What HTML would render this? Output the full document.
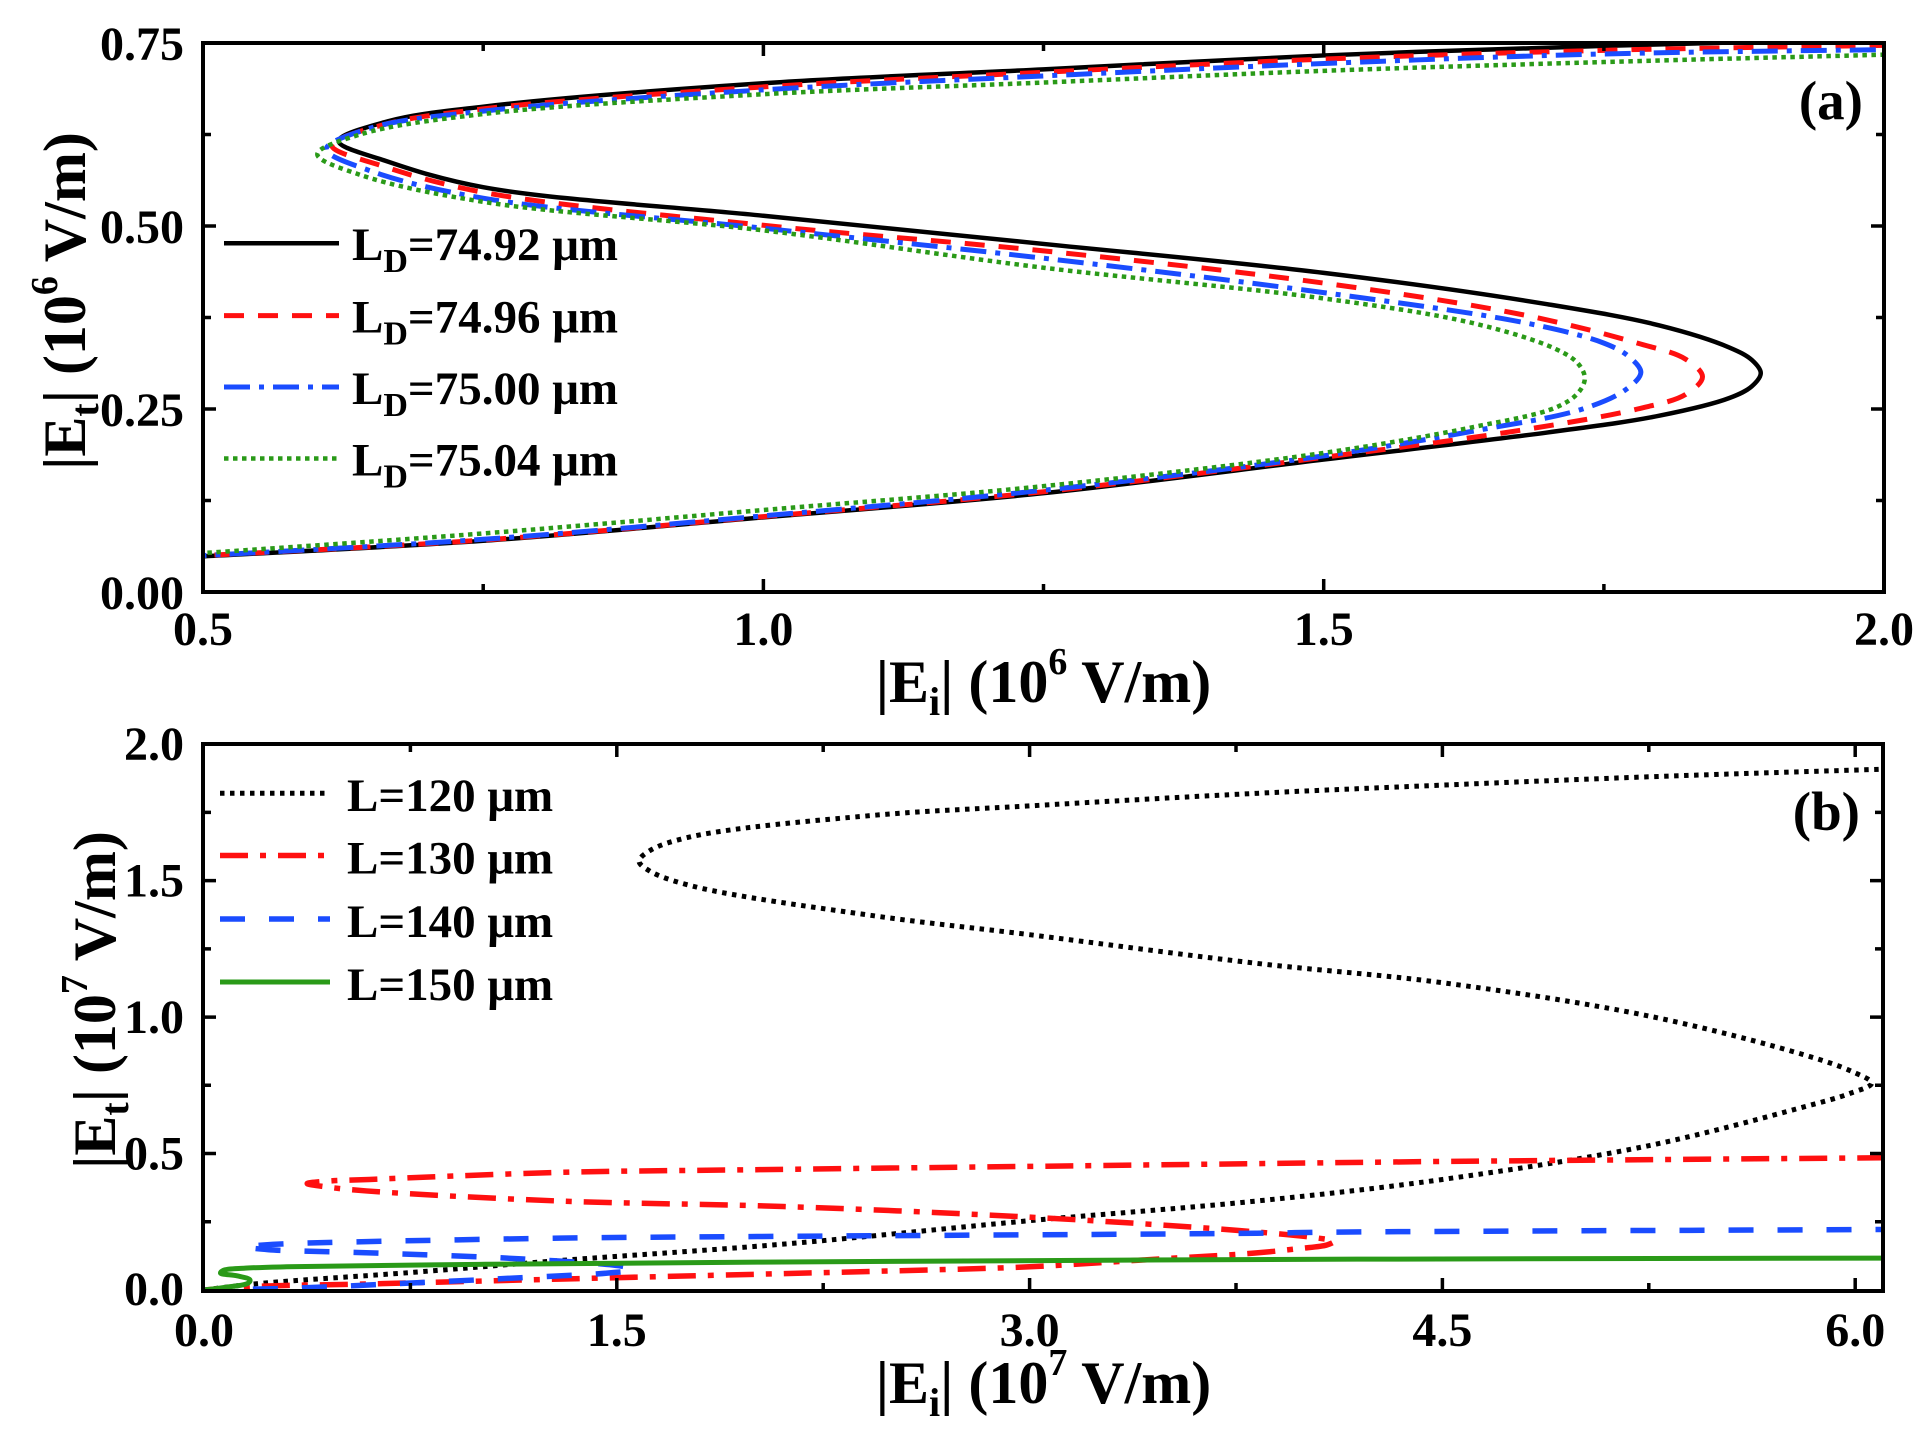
<!DOCTYPE html>
<html>
<head>
<meta charset="utf-8">
<style>
html,body{margin:0;padding:0;background:#fff;}
svg{display:block;}
text{font-family:"Liberation Serif","DejaVu Serif",serif;font-weight:bold;fill:#000;}
</style>
</head>
<body>
<svg id="s" width="1931" height="1451" viewBox="0 0 1931 1451" xmlns="http://www.w3.org/2000/svg">
<defs>
<clipPath id="ca"><rect x="203" y="43" width="1681" height="549"/></clipPath>
<clipPath id="cb"><rect x="203" y="744" width="1680" height="547"/></clipPath>
</defs>
<rect width="1931" height="1451" fill="#fff"/>

<g id="curvesA" clip-path="url(#ca)" fill="none"></g>
<g id="curvesB" clip-path="url(#cb)" fill="none"></g>

<!-- Panel (a) frame and ticks -->
<rect x="203" y="43" width="1681" height="549" fill="none" stroke="#000" stroke-width="4"/>
<path fill="none" stroke="#000" stroke-width="3.5" d="
M483.2 592V584 M763.4 592V579 M1043.5 592V584 M1323.7 592V579 M1603.9 592V584
M483.2 43V51 M763.4 43V56 M1043.5 43V51 M1323.7 43V56 M1603.9 43V51
M203 500.5H211 M203 409H216 M203 317.5H211 M203 226H216 M203 134.5H211
M1884 500.5H1876 M1884 409H1871 M1884 317.5H1876 M1884 226H1871 M1884 134.5H1876"/>

<!-- Panel (b) frame and ticks -->
<rect x="203" y="744" width="1680" height="547" fill="none" stroke="#000" stroke-width="4"/>
<path fill="none" stroke="#000" stroke-width="3.5" d="
M410.4 1291V1283 M616.8 1291V1278 M823.2 1291V1283 M1029.6 1291V1278 M1236 1291V1283 M1442.4 1291V1278 M1648.8 1291V1283 M1855.2 1291V1278
M410.4 744V752 M616.8 744V757 M823.2 744V752 M1029.6 744V757 M1236 744V752 M1442.4 744V757 M1648.8 744V752 M1855.2 744V757
M203 1221.8H211 M203 1153.5H216 M203 1085.3H211 M203 1017.1H216 M203 948.9H211 M203 880.6H216 M203 812.4H211
M1883 1221.8H1875 M1883 1153.5H1870 M1883 1085.3H1875 M1883 1017.1H1870 M1883 948.9H1875 M1883 880.6H1870 M1883 812.4H1875"/>

<!-- Panel (a) tick labels -->
<g font-size="48" text-anchor="end">
<text x="184" y="60">0.75</text>
<text x="184" y="243">0.50</text>
<text x="184" y="426">0.25</text>
<text x="184" y="609">0.00</text>
</g>
<g font-size="48" text-anchor="middle">
<text x="203" y="645">0.5</text>
<text x="763.4" y="645">1.0</text>
<text x="1323.7" y="645">1.5</text>
<text x="1884" y="645">2.0</text>
</g>

<!-- Panel (b) tick labels -->
<g font-size="48" text-anchor="end">
<text x="184" y="760">2.0</text>
<text x="184" y="896.6">1.5</text>
<text x="184" y="1033">1.0</text>
<text x="184" y="1169.5">0.5</text>
<text x="184" y="1305">0.0</text>
</g>
<g font-size="48" text-anchor="middle">
<text x="204" y="1346">0.0</text>
<text x="616.8" y="1346">1.5</text>
<text x="1029.6" y="1346">3.0</text>
<text x="1442.4" y="1346">4.5</text>
<text x="1855.2" y="1346">6.0</text>
</g>

<!-- Axis titles -->
<text x="1043.5" y="702" text-anchor="middle" font-size="60">|E<tspan font-size="40" dy="13">i</tspan><tspan dy="-13">| (10</tspan><tspan font-size="38" dy="-28">6</tspan><tspan dy="28"> V/m)</tspan></text>
<text x="1043.5" y="1403" text-anchor="middle" font-size="60">|E<tspan font-size="40" dy="13">i</tspan><tspan dy="-13">| (10</tspan><tspan font-size="38" dy="-28">7</tspan><tspan dy="28"> V/m)</tspan></text>
<text transform="translate(85,301) rotate(-90)" text-anchor="middle" font-size="60">|E<tspan font-size="40" dy="13">t</tspan><tspan dy="-13">| (10</tspan><tspan font-size="38" dy="-28">6</tspan><tspan dy="28"> V/m)</tspan></text>
<text transform="translate(115,1000) rotate(-90)" text-anchor="middle" font-size="60">|E<tspan font-size="40" dy="13">t</tspan><tspan dy="-13">| (10</tspan><tspan font-size="38" dy="-28">7</tspan><tspan dy="28"> V/m)</tspan></text>

<!-- Panel labels -->
<text x="1863" y="119" text-anchor="end" font-size="55">(a)</text>
<text x="1860" y="830" text-anchor="end" font-size="55">(b)</text>

<!-- Legend (a) -->
<g fill="none">
<line x1="224" y1="243.3" x2="339" y2="243.3" stroke="#000" stroke-width="4.5"/>
<line x1="224" y1="315.6" x2="339" y2="315.6" stroke="#ff1010" stroke-width="5" stroke-dasharray="20 14"/>
<line x1="224" y1="387" x2="339" y2="387" stroke="#1a4cff" stroke-width="5" stroke-dasharray="26 9 5 9"/>
<line x1="224" y1="458.5" x2="339" y2="458.5" stroke="#2a9a18" stroke-width="4.5" stroke-dasharray="4.5 4.5"/>
</g>
<g font-size="47">
<text x="352" y="260">L<tspan font-size="34" dy="12">D</tspan><tspan dy="-12">=74.92 μm</tspan></text>
<text x="352" y="332.6">L<tspan font-size="34" dy="12">D</tspan><tspan dy="-12">=74.96 μm</tspan></text>
<text x="352" y="404">L<tspan font-size="34" dy="12">D</tspan><tspan dy="-12">=75.00 μm</tspan></text>
<text x="352" y="475.5">L<tspan font-size="34" dy="12">D</tspan><tspan dy="-12">=75.04 μm</tspan></text>
</g>

<!-- Legend (b) -->
<g fill="none">
<line x1="220" y1="793.3" x2="330" y2="793.3" stroke="#000" stroke-width="5" stroke-dasharray="4.5 5.5"/>
<line x1="220" y1="855.5" x2="330" y2="855.5" stroke="#ff1010" stroke-width="5.5" stroke-dasharray="28 12 6 12"/>
<line x1="220" y1="919" x2="330" y2="919" stroke="#1a4cff" stroke-width="5.5" stroke-dasharray="25 24"/>
<line x1="220" y1="982" x2="330" y2="982" stroke="#2a9a18" stroke-width="5"/>
</g>
<g font-size="47">
<text x="347" y="811">L=120 μm</text>
<text x="347" y="873.5">L=130 μm</text>
<text x="347" y="937">L=140 μm</text>
<text x="347" y="1000">L=150 μm</text>
</g>
</svg>

<script>
(function(){
  var NS="http://www.w3.org/2000/svg";
  function cr(pts){
    var n=pts.length;
    var d="M"+pts[0][0].toFixed(2)+" "+pts[0][1].toFixed(2);
    for(var i=0;i<n-1;i++){
      var p1=pts[i], p2=pts[i+1];
      var p0=i>0?pts[i-1]:[2*p1[0]-p2[0],2*p1[1]-p2[1]];
      var p3=i+2<n?pts[i+2]:[2*p2[0]-p1[0],2*p2[1]-p1[1]];
      var d1=Math.sqrt(Math.hypot(p1[0]-p0[0],p1[1]-p0[1]))||1e-4;
      var d2=Math.sqrt(Math.hypot(p2[0]-p1[0],p2[1]-p1[1]))||1e-4;
      var d3=Math.sqrt(Math.hypot(p3[0]-p2[0],p3[1]-p2[1]))||1e-4;
      var a1=d1*d1,a2=d2*d2,a3=d3*d3;
      var b1x=(a1*p2[0]-a2*p0[0]+(2*a1+3*d1*d2+a2)*p1[0])/(3*d1*(d1+d2));
      var b1y=(a1*p2[1]-a2*p0[1]+(2*a1+3*d1*d2+a2)*p1[1])/(3*d1*(d1+d2));
      var b2x=(a3*p1[0]-a2*p3[0]+(2*a3+3*d3*d2+a2)*p2[0])/(3*d3*(d3+d2));
      var b2y=(a3*p1[1]-a2*p3[1]+(2*a3+3*d3*d2+a2)*p2[1])/(3*d3*(d3+d2));
      d+=" C"+b1x.toFixed(2)+" "+b1y.toFixed(2)+" "+b2x.toFixed(2)+" "+b2y.toFixed(2)+" "+p2[0].toFixed(2)+" "+p2[1].toFixed(2);
    }
    return d;
  }
  function add(g,data,mx,my,stroke,w,dash){
    var pts=data.map(function(p){return [mx(p[0]),my(p[1])];});
    var el=document.createElementNS(NS,"path");
    el.setAttribute("d",cr(pts));
    el.setAttribute("fill","none");
    el.setAttribute("stroke",stroke);
    el.setAttribute("stroke-width",w);
    el.setAttribute("stroke-linejoin","round");
    if(dash) el.setAttribute("stroke-dasharray",dash);
    g.appendChild(el);
  }
  var ax=function(v){return 203+(v-0.5)*1120.7;};
  var ay=function(v){return 592-v*732;};
  var bx=function(v){return 204+v*275.2;};
  var by=function(v){return 1290-v*272.9;};

  var A_black=[[0.48,0.047],[0.75,0.070],[1.0,0.102],[1.25,0.135],[1.5,0.181],[1.7,0.218],[1.8,0.241],[1.862,0.265],[1.882,0.281],[1.89,0.299],[1.882,0.317],[1.862,0.334],[1.8,0.364],[1.7,0.393],[1.5,0.436],[1.25,0.4755],[1.0,0.514],[0.75,0.553],[0.665,0.588],[0.621,0.616],[0.665,0.643],[0.75,0.663],[1.0,0.695],[1.25,0.714],[1.5,0.733],[1.75,0.746],[2.05,0.758]];
  var A_red=[[0.48,0.048],[0.75,0.071],[1.0,0.103],[1.25,0.137],[1.5,0.184],[1.68,0.222],[1.78,0.250],[1.823,0.270],[1.838,0.294],[1.823,0.318],[1.78,0.340],[1.68,0.378],[1.5,0.422],[1.25,0.466],[1.0,0.501],[0.75,0.546],[0.66,0.582],[0.615,0.61],[0.66,0.638],[0.75,0.660],[1.0,0.690],[1.25,0.710],[1.5,0.728],[1.75,0.740],[2.05,0.748]];
  var A_blue=[[0.48,0.048],[0.75,0.072],[1.0,0.104],[1.25,0.139],[1.5,0.186],[1.634,0.22],[1.731,0.250],[1.770,0.277],[1.783,0.300],[1.772,0.322],[1.75,0.340],[1.682,0.367],[1.5,0.409],[1.25,0.456],[1.0,0.497],[0.75,0.538],[0.65,0.575],[0.61,0.605],[0.65,0.634],[0.75,0.657],[1.0,0.686],[1.25,0.705],[1.5,0.722],[1.75,0.735],[2.05,0.742]];
  var A_green=[[0.48,0.051],[0.75,0.080],[1.0,0.112],[1.25,0.1446],[1.5,0.19],[1.634,0.2255],[1.707,0.252],[1.727,0.272],[1.733,0.292],[1.727,0.312],[1.707,0.332],[1.634,0.367],[1.5,0.401],[1.25,0.443],[1.0,0.494],[0.75,0.533],[0.64,0.57],[0.602,0.598],[0.64,0.625],[0.75,0.653],[1.0,0.680],[1.25,0.696],[1.5,0.712],[1.75,0.724],[2.05,0.736]];

  var gA=document.getElementById("curvesA");
  add(gA,A_black,ax,ay,"#000",4.5,null);
  add(gA,A_red,ax,ay,"#ff1010",5,"20 14");
  add(gA,A_blue,ax,ay,"#1a4cff",5,"26 9 5 9");
  add(gA,A_green,ax,ay,"#2a9a18",4.5,"4.5 4.5");

  var B_black=[[0,0],[0.18,0.022],[0.763,0.065],[1.292,0.108],[2.104,0.168],[3.0,0.254],[3.825,0.326],[4.5,0.405],[5.25,0.529],[5.81,0.67],[5.98,0.72],[6.06,0.758],[5.99,0.80],[5.81,0.863],[5.25,1.004],[4.5,1.126],[3.825,1.197],[3.0,1.302],[2.429,1.372],[1.779,1.479],[1.62,1.535],[1.581,1.571],[1.62,1.61],[1.779,1.663],[2.429,1.739],[3.0,1.774],[3.825,1.82],[4.5,1.85],[5.29,1.882],[6.15,1.91]];
  var B_red=[[0,0],[0.16,0.012],[0.63,0.023],[1.29,0.04],[2.02,0.058],[2.5,0.07],[3.0,0.085],[3.41,0.11],[3.825,0.136],[3.98,0.152],[4.08,0.165],[4.106,0.178],[4.05,0.19],[3.76,0.218],[3.0,0.267],[2.104,0.306],[1.292,0.326],[0.59,0.363],[0.45,0.377],[0.375,0.39],[0.45,0.399],[0.6,0.405],[1.292,0.431],[2.02,0.441],[3.0,0.453],[3.825,0.463],[4.5,0.471],[6.15,0.485]];
  var B_blue=[[0,0],[0.3,0.006],[0.763,0.026],[1.15,0.045],[1.465,0.062],[1.56,0.074],[1.53,0.085],[1.152,0.114],[0.634,0.135],[0.232,0.148],[0.15,0.158],[0.25,0.167],[0.374,0.172],[1.292,0.19],[2.01,0.196],[3.825,0.208],[4.106,0.212],[6.15,0.222]];
  var B_green=[[0,0],[0.08,0.01],[0.16,0.025],[0.167,0.037],[0.12,0.052],[0.06,0.062],[0.07,0.072],[0.15,0.08],[0.3,0.085],[1.0,0.094],[2.01,0.102],[4.19,0.113],[6.15,0.117]];

  var gB=document.getElementById("curvesB");
  add(gB,B_black,bx,by,"#000",5,"4.5 5.5");
  add(gB,B_red,bx,by,"#ff1010",5.5,"28 12 6 12");
  add(gB,B_blue,bx,by,"#1a4cff",5.5,"25 24");
  add(gB,B_green,bx,by,"#2a9a18",5,null);
})();
</script>
</body>
</html>
